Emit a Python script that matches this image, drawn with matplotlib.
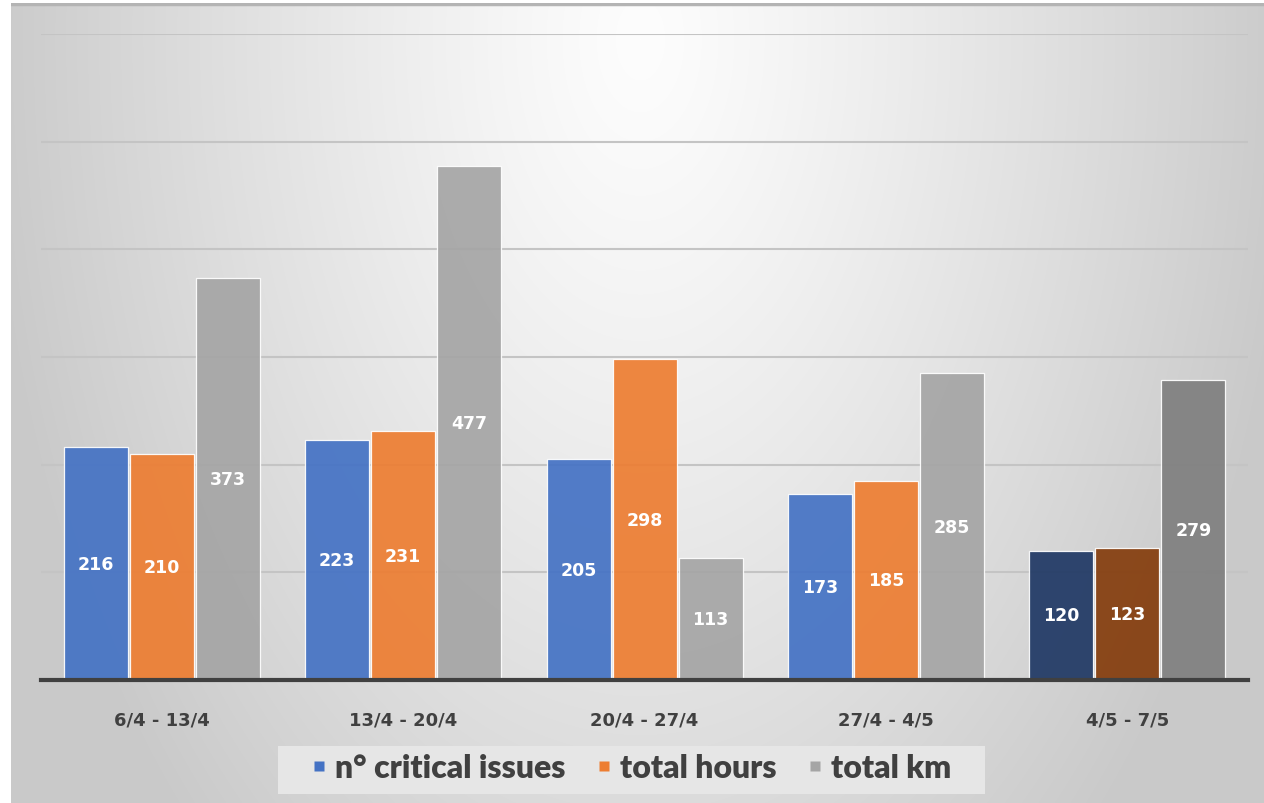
import numpy as np
import matplotlib
matplotlib.use("Agg")
import matplotlib.pyplot as plt
from matplotlib.lines import Line2D
from matplotlib.patches import Rectangle

categories = ["6/4 - 13/4", "13/4 - 20/4", "20/4 - 27/4", "27/4 - 4/5", "4/5 - 7/5"]
series_names = ["n° critical issues", "total hours", "total km"]
critical_issues = [216, 223, 205, 173, 120]
total_hours = [210, 231, 298, 185, 123]
total_km = [373, 477, 113, 285, 279]
series_values = [critical_issues, total_hours, total_km]
base_colors = ["#4472C4", "#ED7D31", "#A5A5A5"]
highlight_colors = ["#1F3864", "#843C0C", "#7F7F7F"]
highlight_index = 4

W, H = 1264, 804
fig = plt.figure(figsize=(W / 100, H / 100), dpi=100)
fig.patch.set_facecolor("white")

# background gradient panel
bg = fig.add_axes([11 / W, 0, 1 - 11 / W, 800 / H], zorder=0)
xs = np.arange(11, W)
ys = np.arange(4, H)
X, Y = np.meshgrid(xs, ys)
d = np.sqrt(((X - 640) / 660.0) ** 2 + ((Y - 40) / 1100.0) ** 2)
d = np.clip(d, 0, 1)
v = (253 - 52 * d ** 1.2) / 255.0
img = np.dstack([v, v, v])
bg.imshow(img, aspect="auto", extent=[0, 1, 0, 1], origin="upper")
bg.plot([0, 1], [0.999, 0.999], color="#b4b4b4", lw=2.5, transform=bg.transAxes)
bg.set_axis_off()

# legend box
fig.patches.append(Rectangle((278 / W, (H - 795) / H), (985 - 278) / W, 48 / H,
                             transform=fig.transFigure, facecolor="#e6e6e6",
                             edgecolor="none", zorder=1))

ax = fig.add_axes([41 / W, (H - 681) / H, (1248 - 41) / W, (681 - 35) / H], zorder=2)
ax.set_facecolor("none")
ax.set_xlim(-0.5, len(categories) - 0.5)
ax.set_ylim(0, 600)

x = np.arange(len(categories))
offset = 66 / ((1248 - 41) / len(categories))
width = 64 / ((1248 - 41) / len(categories))

for s, vals in enumerate(series_values):
    colors = [highlight_colors[s] if i == highlight_index else base_colors[s]
              for i in range(len(categories))]
    pos = x + (s - 1) * offset
    bars = ax.bar(pos, vals, width=width, color=colors, alpha=0.92,
                  edgecolor=(1, 1, 1, 0.55), linewidth=0.9, zorder=3)
    for b, val in zip(bars, vals):
        ax.text(b.get_x() + b.get_width() / 2, val / 2, str(val),
                ha="center", va="center", color="white", fontsize=12.5,
                fontweight="bold", zorder=5)

ax.set_yticks(np.arange(0, 601, 100))
ax.yaxis.grid(True, color="#c4c4c4", lw=1.5, zorder=1)
ax.set_axisbelow(True)
ax.tick_params(axis="y", left=False, labelleft=False)
for sp in ["left", "right", "top"]:
    ax.spines[sp].set_visible(False)
ax.spines["bottom"].set_color("#404040")
ax.spines["bottom"].set_linewidth(3)
ax.spines["bottom"].set_zorder(6)

ax.set_xticks(x)
ax.set_xticklabels(categories, fontsize=13, fontweight="bold", color="#404040")
ax.tick_params(axis="x", length=0, pad=22)

handles = [Line2D([], [], marker="s", linestyle="none", markersize=7,
                  markerfacecolor=c, markeredgecolor="none") for c in base_colors]
leg = fig.legend(handles, series_names, loc="center", bbox_to_anchor=(633 / W, (H - 769) / H),
                 ncol=3, frameon=False, handlelength=0.3, handletextpad=0.35,
                 columnspacing=1.05,
                 prop={"family": ["Lato", "DejaVu Sans"], "weight": "heavy", "size": 23})
for t in leg.get_texts():
    t.set_color("#404040")

fig.savefig("out.png", dpi=100)
